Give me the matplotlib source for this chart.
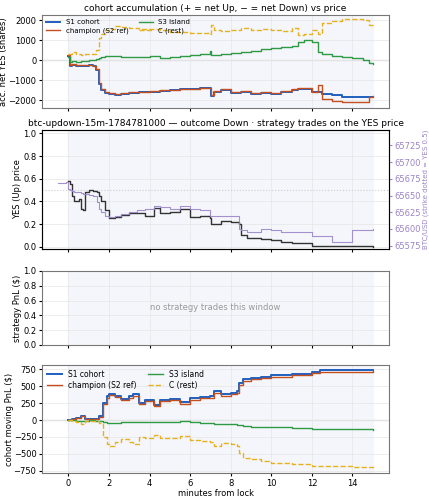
import matplotlib
matplotlib.use("Agg")
import matplotlib.pyplot as plt
import numpy as np

# ---- data (step breakpoints, minutes from lock) ----
t_acc = [0, 0.1, 0.2, 0.4, 0.6, 0.8, 1.0, 1.2, 1.35, 1.5, 1.6, 1.8, 2.0, 2.3, 2.6, 3.0, 3.5, 4.0, 4.5, 5.0, 5.5, 6.0, 6.5, 7.0, 7.05, 7.2, 7.5, 8.0, 8.5, 9.0, 9.5, 10.0, 10.5, 11.0, 11.3, 11.6, 12.0, 12.3, 12.5, 13.0, 13.5, 14.0, 14.5, 14.8, 15.0]
s1_acc = [200, -300, -250, -300, -280, -300, -250, -300, -500, -1200, -1500, -1650, -1700, -1750, -1700, -1650, -1600, -1580, -1550, -1500, -1450, -1450, -1420, -1400, -1800, -1600, -1500, -1650, -1600, -1700, -1650, -1700, -1600, -1500, -1450, -1450, -1600, -1600, -1700, -1750, -1850, -1850, -1850, -1850, -1850]
ch_acc = [250, -250, -200, -250, -250, -270, -230, -280, -450, -1150, -1450, -1600, -1650, -1700, -1650, -1600, -1580, -1550, -1520, -1480, -1430, -1430, -1400, -1380, -1750, -1550, -1450, -1600, -1550, -1650, -1600, -1650, -1550, -1450, -1400, -1400, -1600, -1250, -1950, -2050, -2100, -2100, -2100, -1850, -1800]
s3_acc = [150, -100, -50, -80, -60, -30, -20, 0, 50, 100, 150, 200, 200, 180, 150, 130, 150, 200, 100, 150, 200, 250, 300, 450, 250, 250, 300, 350, 400, 450, 550, 600, 650, 700, 900, 1000, 900, 400, 300, 200, 150, 100, 0, -150, -200]
c_acc = [300, 300, 400, 300, 250, 280, 300, 300, 500, 1100, 1300, 1500, 1550, 1700, 1650, 1600, 1550, 1550, 1500, 1400, 1400, 1350, 1350, 1300, 1750, 1500, 1450, 1500, 1600, 1500, 1550, 1500, 1450, 1600, 1250, 1300, 1500, 1300, 1850, 1950, 2050, 2050, 2000, 1750, 1700]

t_yes = [-0.5, -0.1, 0, 0.1, 0.2, 0.3, 0.5, 0.6, 0.7, 0.8, 1.0, 1.2, 1.4, 1.5, 1.6, 1.8, 2.0, 2.3, 2.6, 3.0, 3.4, 3.8, 4.2, 4.5, 5.0, 5.5, 6.0, 6.5, 7.0, 7.05, 7.5, 8.0, 8.4, 8.5, 8.8, 9.5, 10.0, 10.5, 11.0, 12.0, 13.0, 14.0, 15.0]
yes_p = [None, None, 0.58, 0.55, 0.45, 0.40, 0.42, 0.33, 0.32, 0.48, 0.50, 0.49, 0.48, 0.45, 0.40, 0.32, 0.25, 0.26, 0.28, 0.30, 0.30, 0.27, 0.34, 0.30, 0.31, 0.33, 0.26, 0.27, 0.25, 0.20, 0.23, 0.22, 0.20, 0.10, 0.08, 0.07, 0.06, 0.04, 0.03, 0.01, 0.01, 0.005, 0.0]
btc = [65668, 65670, 65660, 65658, 65657, 65656, 65655, 65654, 65653, 65652, 65651, 65650, 65640, 65630, 65625, 65620, 65618, 65620, 65622, 65625, 65628, 65630, 65635, 65633, 65630, 65635, 65630, 65628, 65620, 65620, 65620, 65620, 65600, 65598, 65595, 65600, 65598, 65596, 65595, 65590, 65580, 65598, 65600]

t_pnl = [0, 0.2, 0.4, 0.6, 0.8, 1.0, 1.3, 1.5, 1.7, 1.9, 2.0, 2.3, 2.6, 3.0, 3.2, 3.5, 3.8, 4.2, 4.5, 5.0, 5.5, 6.0, 6.5, 7.0, 7.2, 7.5, 8.0, 8.3, 8.4, 8.6, 9.0, 9.5, 10.0, 11.0, 12.0, 12.4, 13.0, 14.0, 15.0]
s1_pnl = [0, 20, 30, 60, 20, 10, 20, 60, 250, 350, 390, 360, 310, 350, 380, 250, 300, 220, 300, 310, 260, 320, 340, 350, 420, 380, 400, 420, 550, 600, 620, 640, 660, 680, 700, 730, 730, 730, 740]
ch_pnl = [0, 15, 25, 55, 15, 10, 15, 50, 230, 330, 370, 340, 290, 330, 360, 230, 280, 200, 280, 290, 240, 300, 320, 330, 400, 360, 380, 400, 520, 580, 600, 620, 640, 660, 690, 700, 710, 710, 720]
s3_pnl = [0, -5, -10, -15, -10, -5, -10, -20, -30, -40, -40, -40, -35, -35, -30, -30, -30, -25, -25, -25, -20, -30, -40, -50, -60, -60, -60, -70, -80, -90, -100, -110, -110, -120, -130, -130, -130, -135, -140]
c_pnl = [0, -10, -30, -60, -20, -10, -20, -50, -250, -350, -380, -330, -280, -330, -350, -250, -270, -220, -260, -270, -230, -300, -310, -320, -380, -340, -360, -380, -480, -560, -580, -600, -630, -650, -670, -680, -680, -690, -700]

# ---- style ----
blue, red, green, gold = "#1f5fbf", "#c44e1e", "#2e9a44", "#e6b01e"
purple = "#9a85c8"
bg = "#f4f6fb"

fig = plt.figure(figsize=(4.29, 5.0), dpi=100)
W, H = 429, 500
def ax_at(x0, y0, x1, y1):
    return fig.add_axes([x0 / W, 1 - y1 / H, (x1 - x0) / W, (y1 - y0) / H])

axs = [ax_at(42, 15, 389, 108), ax_at(42, 130, 389, 249),
       ax_at(42, 271, 389, 345), ax_at(42, 365, 389, 473)]
for ax in axs:
    ax.set_xlim(-1.3, 15.8)
    ax.axvspan(0, 15, color=bg, zorder=0)
    ax.grid(True, color="#e6e6e6", lw=0.5)
    ax.tick_params(labelsize=6, length=2.5, pad=1.5)
    for s in ax.spines.values():
        s.set_color("#777")
    ax.set_xticks(range(0, 15, 2))
    if ax is not axs[3]:
        ax.set_xticklabels([])

fs = 6
# panel 1
a = axs[0]
a.axhline(0, color="#dddddd", lw=1, zorder=1)
a.step(t_acc, s1_acc, where="post", color=blue, lw=1.4, label="S1 cohort")
a.step(t_acc, ch_acc, where="post", color=red, lw=1.0, label="champion (S2 ref)")
a.step(t_acc, s3_acc, where="post", color=green, lw=1.0, label="S3 island")
a.step(t_acc, c_acc, where="post", color=gold, lw=1.0, ls="--", label="C (rest)")
a.set_ylim(-2400, 2250)
a.set_yticks([-2000, -1000, 0, 1000, 2000])
a.set_ylabel("acc. net YES (shares)", fontsize=fs, labelpad=0)
a.set_title("cohort accumulation (+ = net Up, − = net Down) vs price", fontsize=6.5, pad=3)
a.legend(ncol=2, fontsize=5, loc="upper left", frameon=False, handlelength=2, columnspacing=1.5, borderaxespad=0.2, labelspacing=0.3)

# panel 2
a = axs[1]
a.axhline(0.5, color="#cccccc", lw=0.8, ls=":")
a.step(t_yes, [np.nan if v is None else v for v in yes_p], where="post", color="#333333", lw=1.0)
a.set_ylim(-0.02, 1.03)
a.set_yticks([0, 0.2, 0.4, 0.6, 0.8, 1.0])
a.set_ylabel("YES (Up) price", fontsize=fs, labelpad=1)
a.set_title("btc-updown-15m-1784781000 — outcome Down · strategy trades on the YES price", fontsize=6.5, pad=3)
b = a.twinx()
b.step(t_yes, btc, where="post", color=purple, lw=0.8, alpha=0.9)
b.set_ylim(65570, 65748)
b.set_yticks([65575, 65600, 65625, 65650, 65675, 65700, 65725])
b.tick_params(labelsize=6, colors=purple, length=2.5, pad=1.5)
b.set_ylabel("BTC/USD (strike dotted = YES 0.5)", fontsize=5, color=purple, labelpad=1)

# panel 3
a = axs[2]
a.set_ylim(0, 1)
a.set_yticks([0, 0.2, 0.4, 0.6, 0.8, 1.0])
a.set_ylabel("strategy PnL ($)", fontsize=fs, labelpad=1)
a.text(0.5, 0.5, "no strategy trades this window", transform=a.transAxes, ha="center", va="center", fontsize=6, color="#999999")

# panel 4
a = axs[3]
a.axhline(0, color="#dddddd", lw=1, zorder=1)
a.step(t_pnl, s1_pnl, where="post", color=blue, lw=1.4, label="S1 cohort")
a.step(t_pnl, ch_pnl, where="post", color=red, lw=1.0, label="champion (S2 ref)")
a.step(t_pnl, s3_pnl, where="post", color=green, lw=1.0, label="S3 island")
a.step(t_pnl, c_pnl, where="post", color=gold, lw=1.0, ls="--", label="C (rest)")
a.set_ylim(-780, 810)
a.set_yticks([-750, -500, -250, 0, 250, 500, 750])
a.set_ylabel("cohort moving PnL ($)", fontsize=fs, labelpad=0)
a.set_xlabel("minutes from lock", fontsize=fs, labelpad=1)
a.legend(ncol=2, fontsize=5.5, loc="upper left", frameon=False, handlelength=2, columnspacing=1.5, borderaxespad=0.2, labelspacing=0.3)

fig.savefig("out.png", dpi=100)
